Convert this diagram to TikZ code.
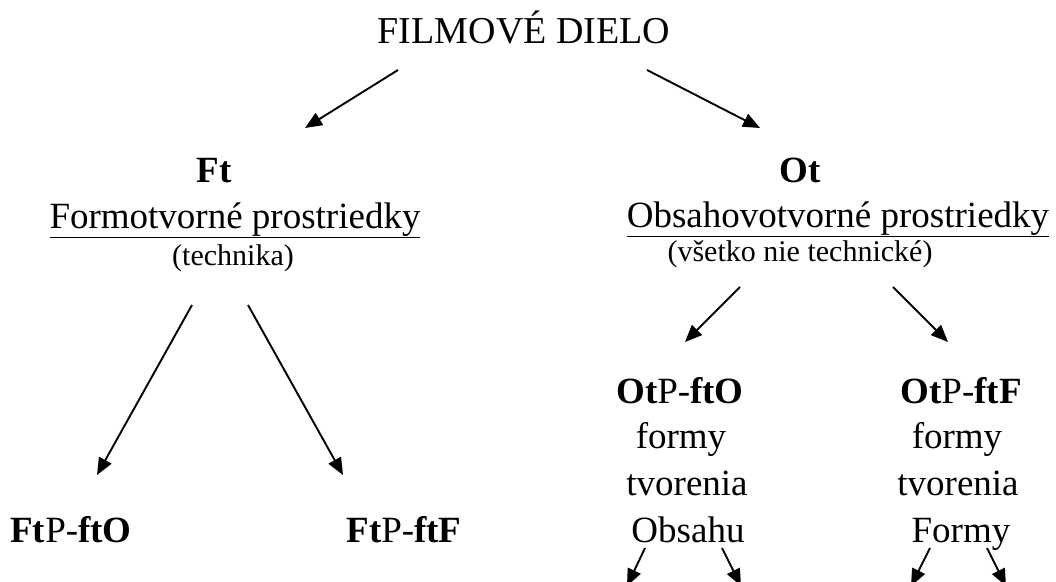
\documentclass[tikz,border=0pt]{standalone}
\usepackage{fontspec}
\setmainfont{Liberation Serif}
\usetikzlibrary{arrows.meta}
\begin{document}
\begin{tikzpicture}[x=1pt,y=-1pt,
  big/.style={anchor=base,inner sep=0pt,font=\fontsize{37}{44}\selectfont},
  small/.style={anchor=base,inner sep=0pt,font=\fontsize{30}{36}\selectfont},
  arr/.style={line width=1.9pt,-{Triangle[length=17pt,width=14pt]}}]
\useasboundingbox (0,0) rectangle (1056,581);
% texts
\node[big,font=\fontsize{38}{45}\selectfont] (title) at (524,43) {FILMOVÉ DIELO};
\node[big] (ft) at (214,182) {\textbf{Ft}};
\node[big] (ftname) at (235,228) {\underline{Formotvorné prostriedky}};
\node[small] (ftnote) at (233,265) {(technika)};
\node[big] (ot) at (800,182) {\textbf{Ot}};
\node[big] (otname) at (838,227) {\underline{Obsahovotvorné prostriedky}};
\node[small] (otnote) at (800,261) {(všetko nie technické)};
\node[big] (ftpfto) at (71,542) {\textbf{Ft}P-\textbf{ftO}};
\node[big] (ftpftf) at (404,542) {\textbf{Ft}P-\textbf{ftF}};
\node[big] (otpfto) at (680,403) {\textbf{Ot}P-\textbf{ftO}};
\node[big] (a1) at (681,448) {formy};
\node[big] (a2) at (687,495) {tvorenia};
\node[big] (a3) at (688,542) {Obsahu};
\node[big] (otpftf) at (961,403) {\textbf{Ot}P-\textbf{ftF}};
\node[big] (b1) at (957,448) {formy};
\node[big] (b2) at (958,495) {tvorenia};
\node[big] (b3) at (961,542) {Formy};
% arrow ends
\coordinate (t1s) at (398,70);  \coordinate (t1e) at (305,128);
\coordinate (t2s) at (647,70);  \coordinate (t2e) at (760,128);
\coordinate (f1s) at (192,305); \coordinate (f1e) at (97,475);
\coordinate (f2s) at (248,305); \coordinate (f2e) at (343,475);
\coordinate (o1s) at (740,287); \coordinate (o1e) at (685,342);
\coordinate (o2s) at (893,287); \coordinate (o2e) at (948,342);
\coordinate (p1s) at (645,548); \coordinate (p1e) at (627,586);
\coordinate (p2s) at (722,548); \coordinate (p2e) at (741,586);
\coordinate (q1s) at (930,548); \coordinate (q1e) at (911,586);
\coordinate (q2s) at (987,548); \coordinate (q2e) at (1006,586);
\draw[arr] (t1s) -- (t1e);
\draw[arr] (t2s) -- (t2e);
\draw[arr] (f1s) -- (f1e);
\draw[arr] (f2s) -- (f2e);
\draw[arr] (o1s) -- (o1e);
\draw[arr] (o2s) -- (o2e);
\draw[arr] (p1s) -- (p1e);
\draw[arr] (p2s) -- (p2e);
\draw[arr] (q1s) -- (q1e);
\draw[arr] (q2s) -- (q2e);
\end{tikzpicture}
\end{document}
